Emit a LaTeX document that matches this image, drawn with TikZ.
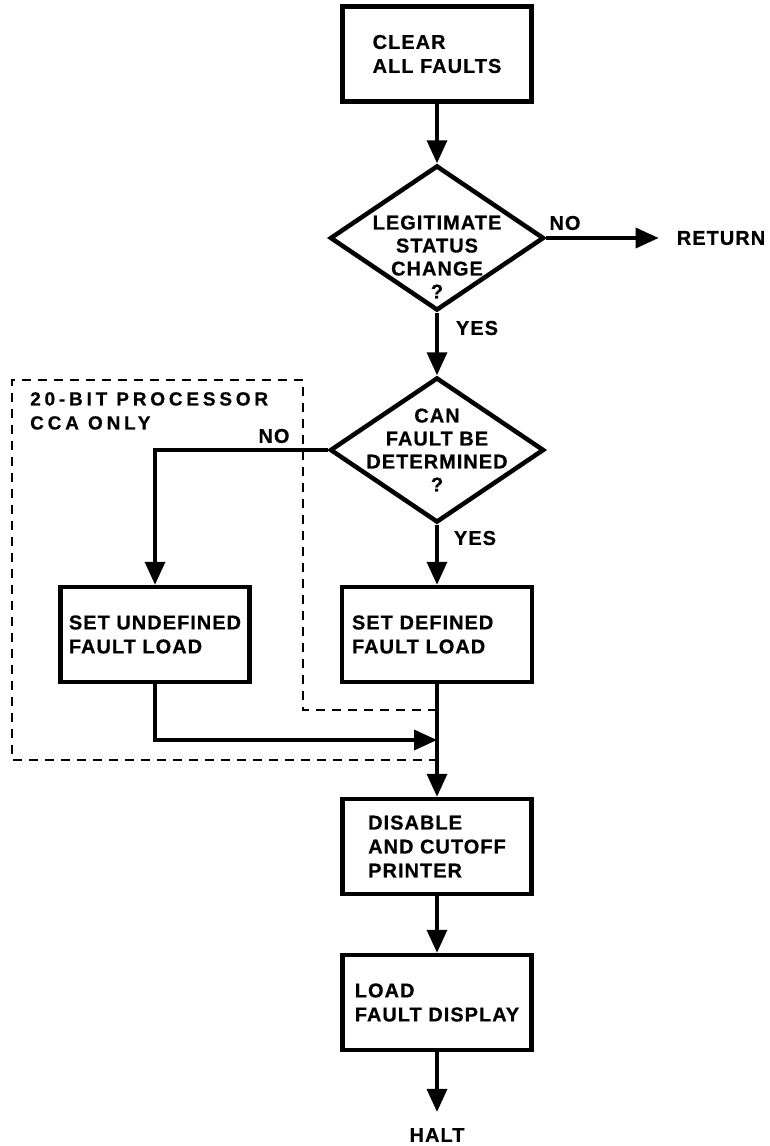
\documentclass[tikz,border=0pt]{standalone}
\usepackage{fontspec}
\setmainfont{Liberation Sans}
\newfontfamily\lblfont{Liberation Sans}[LetterSpace=5, BoldFeatures={FakeBold=0.6}]
\newfontfamily\widefont{Liberation Sans}[LetterSpace=20, BoldFeatures={FakeBold=0.6}]
\usetikzlibrary{arrows.meta,shapes.geometric}
\begin{document}
\begin{tikzpicture}[x=1pt,y=-1pt,
  txt/.style={font=\lblfont\bfseries\fontsize{20}{24}\selectfont, inner sep=0pt, align=left},
  box/.style={txt, draw, line width=4.5pt, minimum width=189pt, minimum height=95pt},
  dia/.style={diamond, draw, line width=4.5pt, aspect=1.48, minimum width=214pt, minimum height=145pt, inner sep=0pt},
  conn/.style={line width=3.5pt, -{Triangle[length=23pt,width=20pt]}},
  dashbox/.style={line width=2.2pt, dash pattern=on 9pt off 7pt}]
\useasboundingbox (0,0) rectangle (769,1146);

% dashed region
\coordinate (dA) at (437,710);
\coordinate (dB) at (303,710);
\coordinate (dC) at (303,380);
\coordinate (dD) at (12,380);
\coordinate (dE) at (12,760);
\coordinate (dF) at (437,760);
\draw[dashbox] (dA) -- (dB) -- (dC) -- (dD) -- (dE) -- (dF);
\node[txt, font=\widefont\bfseries\fontsize{19}{25}\selectfont, anchor=north west] (cca) at (30,392) {20-BIT PROCESSOR\\[-1pt]CCA ONLY};

% nodes
\node[box] (clear) at (437,54) {CLEAR\\ALL FAULTS};
\node[dia] (d1) at (437,238) {};
\node[txt, align=center] (d1t) at (437,257) {LEGITIMATE\\[-1pt]STATUS\\[-1pt]CHANGE\\[-1pt]?};
\node[txt] (ret) at (721,238) {RETURN};
\node[txt] (no1) at (565,223) {NO};
\node[txt] (yes1) at (477,328) {YES};
\node[dia] (d2) at (437,450) {};
\node[txt, align=center] (d2t) at (437,450) {CAN\\[-1pt]FAULT BE\\[-1pt]DETERMINED\\[-1pt]?};
\node[txt] (no2) at (274,436) {NO};
\node[txt] (yes2) at (475,538) {YES};
\node[box] (undef) at (155,634.5) {SET UNDEFINED\\FAULT LOAD};
\node[box, minimum width=0pt, text width=170pt, inner xsep=10pt] (def) at (437,634.5) {SET DEFINED\\FAULT LOAD};
\node[box] (disable) at (437,846.5) {DISABLE\\AND CUTOFF\\PRINTER};
\node[box] (load) at (437,1002.5) {LOAD\\FAULT DISPLAY};
\node[txt] (halt) at (437,1135) {HALT};
\coordinate (merge) at (437,740);

% connectors
\draw[conn] (clear.south) -- (d1.north);
\draw[conn, shorten >=18pt] (d1.east) -- (ret.west);
\draw[conn] (d1.south) -- (d2.north);
\draw[conn] (d2.west) -| (undef.north);
\draw[conn] (d2.south) -- (def.north);
\draw[conn] (def.south) -- (disable.north);
\draw[conn] (undef.south) |- (merge);
\draw[conn] (disable.south) -- (load.north);
\draw[conn, shorten >=16pt] (load.south) -- (halt.north);
\end{tikzpicture}
\end{document}
